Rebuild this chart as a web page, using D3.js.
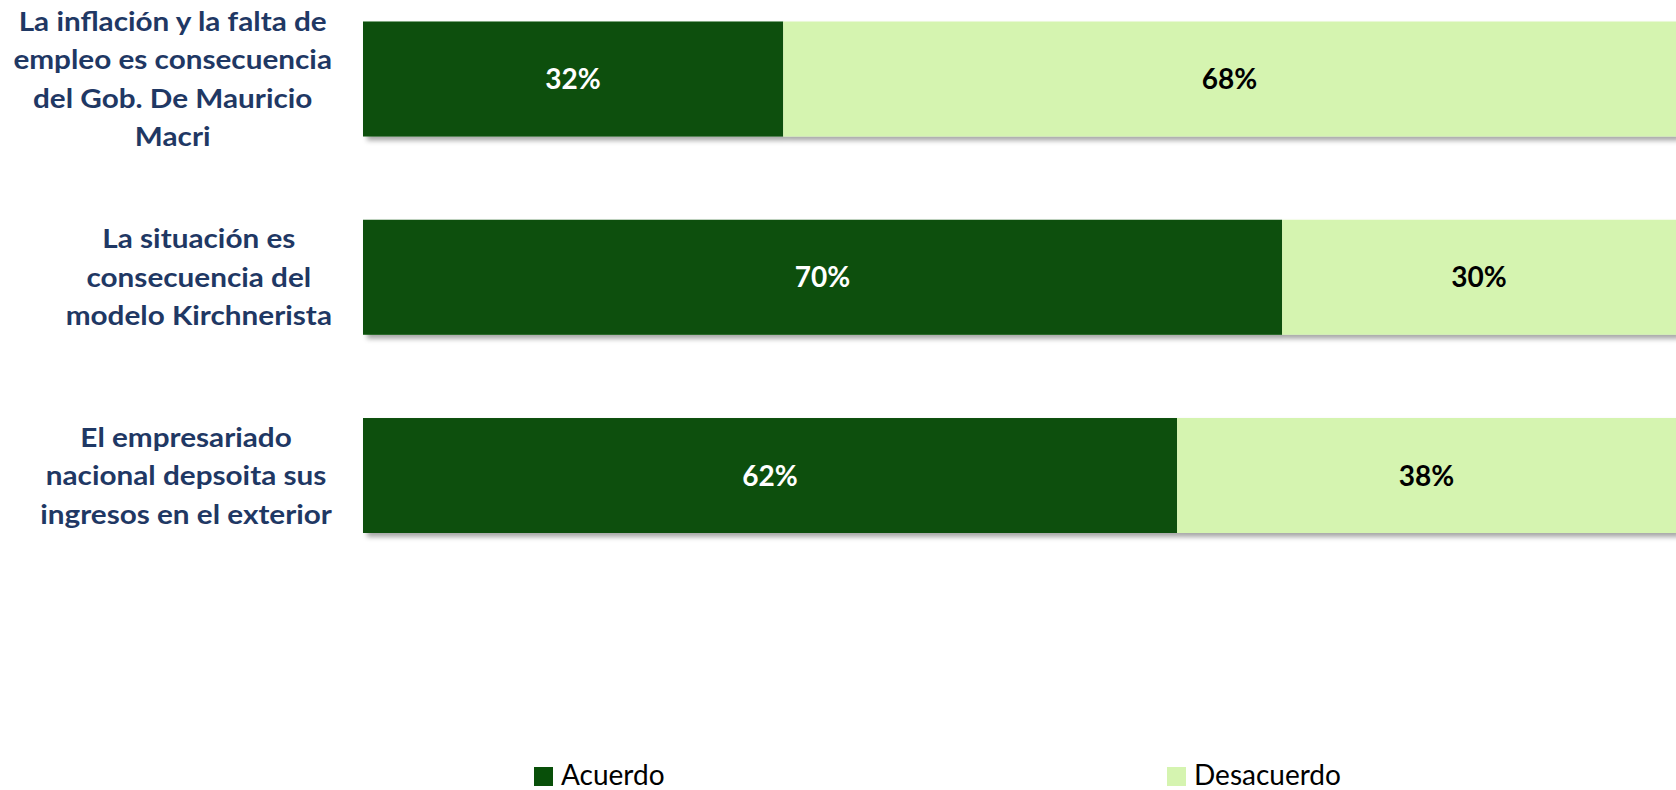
<!DOCTYPE html>
<html>
<head>
<meta charset="utf-8">
<script src="https://cdn.jsdelivr.net/npm/d3@7"></script>
<style>
  body { margin: 0; background: #fff; }
  svg { display: block; }
</style>
</head>
<body>
<script>
// data
const categories = [
  "La inflación y la falta de\nempleo es consecuencia\ndel Gob. De Mauricio\nMacri",
  "La situación es\nconsecuencia del\nmodelo Kirchnerista",
  "El empresariado\nnacional depsoita sus\ningresos en el exterior"
]
const acuerdo = [32, 70, 62]
const desacuerdo = [68, 30, 38]
const seriesNames = ["Acuerdo", "Desacuerdo"]
const seriesColors = ["#084F09", "#D5F4B0"]
const labelColors = ["#ffffff", "#000000"]

const W = 1676, H = 790
const font = "Lato, 'Open Sans', sans-serif"

const svg = d3.select("body")
  .append("svg")
    .attr("width", W)
    .attr("height", H)

// soft shadow under the bars
const f = svg.append("defs").append("filter")
    .attr("id", "shadow")
    .attr("x", "-5%").attr("y", "-20%")
    .attr("width", "110%").attr("height", "150%")
f.append("feDropShadow")
    .attr("dx", 4).attr("dy", 4)
    .attr("stdDeviation", 2.5)
    .attr("flood-color", "#000")
    .attr("flood-opacity", 0.35)

let x = d3.scaleLinear().domain([0, 100]).range([363, 1676])
let y = d3.scaleBand().domain(categories).range([21.5, 533])
    .paddingInner(0.42).paddingOuter(0)

// stack the two series
let rows = categories.map((c, i) => ({cat: c, Acuerdo: acuerdo[i], Desacuerdo: desacuerdo[i]}))
let stacked = d3.stack().keys(seriesNames)(rows)

let bars = svg.append("g").attr("id", "bars")
rows.forEach((r, i) => {
  let g = bars.append("g").attr("filter", "url(#shadow)")
  stacked.forEach((s, k) => {
    g.append("rect")
      .attr("x", x(s[i][0]))
      .attr("y", y(r.cat))
      .attr("width", x(s[i][1]) - x(s[i][0]))
      .attr("height", y.bandwidth())
      .attr("fill", seriesColors[k])
  })
})

// value labels
stacked.forEach((s, k) => {
  rows.forEach((r, i) => {
    svg.append("text")
      .attr("x", (x(s[i][0]) + x(s[i][1])) / 2)
      .attr("y", y(r.cat) + y.bandwidth() / 2)
      .attr("dy", "0.36em")
      .attr("text-anchor", "middle")
      .attr("font-family", font)
      .attr("font-weight", "bold")
      .attr("font-size", 28)
      .attr("fill", labelColors[k])
      .text(s[i][1] - s[i][0] + "%")
  })
})

// category labels: block right aligned, lines centered inside it
const lineH = 38.5
const sx = 1.1
categories.forEach(c => {
  let lines = c.split("\n")
  let t = svg.append("text")
      .attr("font-family", font)
      .attr("font-weight", "bold")
      .attr("font-size", 27)
      .attr("fill", "#1F3864")
      .attr("text-anchor", "middle")
  let spans = lines.map(l => t.append("tspan").text(l))
  let wMax = d3.max(spans, s => s.node().getComputedTextLength()) * sx
  let cx = 332 - wMax / 2
  t.attr("transform", `translate(${cx},0) scale(${sx},1)`)
  let mid = y(c) + y.bandwidth() / 2
  let first = mid - (lines.length - 1) * lineH / 2
  spans.forEach((s, j) => {
    s.attr("x", 0).attr("y", first + j * lineH).attr("dy", "0.36em")
  })
})

// legend
const legX = [534, 1167]
seriesNames.forEach((n, k) => {
  svg.append("rect")
    .attr("x", legX[k]).attr("y", 767)
    .attr("width", 19).attr("height", 19)
    .attr("fill", seriesColors[k])
  svg.append("text")
    .attr("x", legX[k] + 27).attr("y", 785)
    .attr("font-family", font)
    .attr("font-size", 28)
    .attr("fill", "#000")
    .text(n)
})
</script>
</body>
</html>
